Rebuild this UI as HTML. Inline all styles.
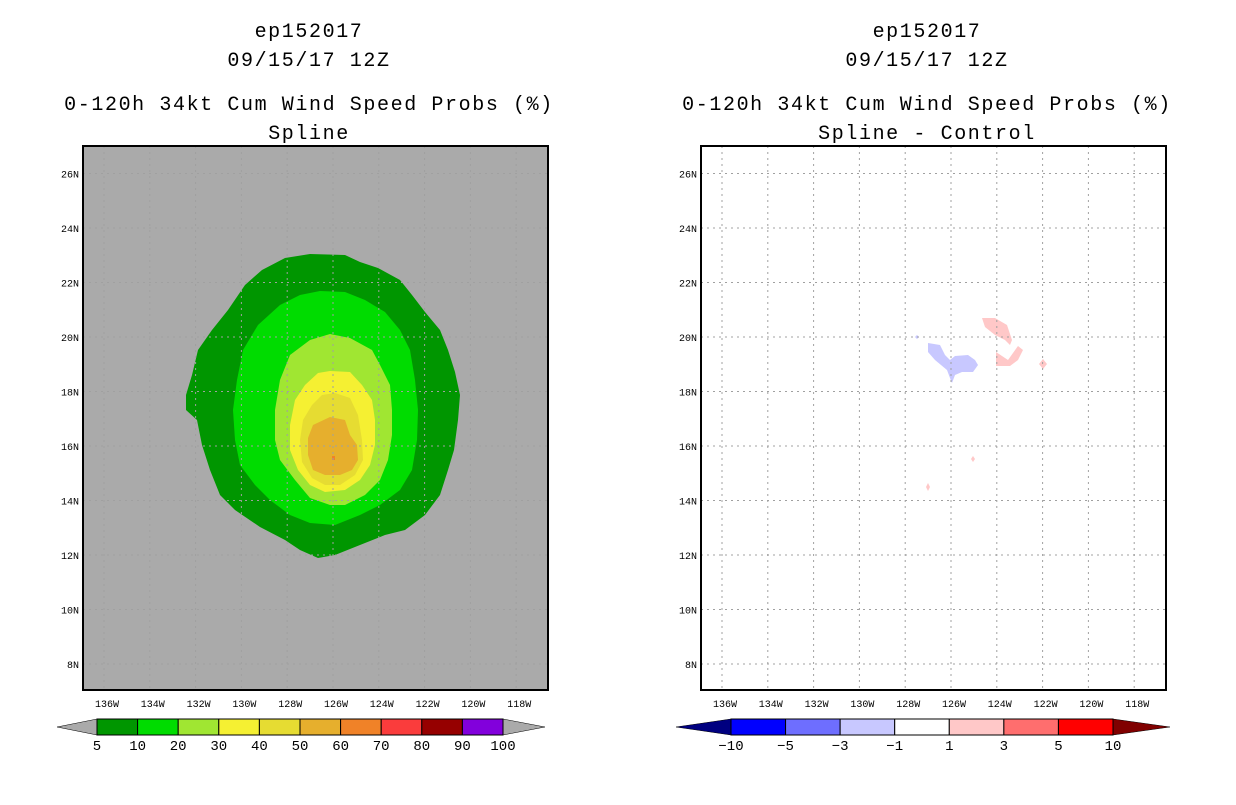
<!DOCTYPE html>
<html><head><meta charset="utf-8"><style>
body{margin:0;background:#fff;}
svg text{font-family:"Liberation Mono","DejaVu Sans Mono",monospace;}
</style></head><body>
<svg id="s" width="1236" height="800" xmlns="http://www.w3.org/2000/svg"></svg>
<script>
const lats=[8,10,12,14,16,18,20,22,24,26];
const lons=[136,134,132,130,128,126,124,122,120,118];
const probLevels=[5,10,20,30,40,50,60,70,80,90,100];
const probColors=["#009600","#00dc00","#a0e632","#f5f032","#e6dc32","#e6af2d","#f08228","#fa3c3c","#960000","#8200dc"];
const diffLevels=[-10,-5,-3,-1,1,3,5,10];
const diffColors=["#0000ff","#6e6eff","#c8c8ff","#ffffff","#ffc8c8","#ff6e6e","#ff0000"];
function P(a){const r=[];for(let i=0;i<a.length;i+=2)r.push([126-(a[i]-333)/22.9,16+(446-a[i+1])/27.25]);return r;}
const ring5=P([310,254,345,255,360,262,378,268,400,280,412,295,425,312,440,330,448,350,455,372,460,395,458,420,454,450,448,470,440,495,425,515,405,530,385,535,360,545,335,555,318,558,300,550,285,540,260,527,235,510,220,495,210,470,202,445,197,420,186,410,186,395,192,375,198,350,212,330,228,310,245,285,262,270,285,258]);
const ring10=P([320,291,345,292,365,300,385,312,400,330,410,350,415,380,418,410,417,440,412,470,400,490,380,505,360,515,335,525,310,523,290,515,270,500,255,485,240,465,235,440,233,410,237,380,243,350,258,325,280,305,300,295]);
const ring20=P([330,334,350,338,372,350,380,365,390,385,392,410,392,435,388,460,380,480,365,495,345,505,330,505,310,498,295,480,280,460,275,440,275,410,280,380,290,355,310,340]);
const ring30=P([330,371,350,372,362,385,372,400,375,420,375,445,370,465,360,480,345,490,325,492,310,485,298,470,290,450,290,425,295,400,305,385,318,373]);
const ring40=P([335,393,350,398,358,415,362,440,363,460,355,475,340,485,325,485,312,478,302,462,300,440,303,420,312,405,322,395]);
const ring50=P([330,417,345,420,350,435,357,445,358,460,352,470,340,475,325,475,313,470,308,455,308,438,313,425]);
const ring60=P([332,456,335,456,335,460,332,460]);
const probRings=[ring5,ring10,ring20,ring30,ring40,ring50,ring60];
function Q(a){const r=[];for(let i=0;i<a.length;i+=2)r.push([126-(a[i]-951)/22.9,16+(446-a[i+1])/27.25]);return r;}
const diffBlobs=[
 {c:2,pts:Q([928,343,940,345,945,355,950,360,955,356,968,355,975,360,978,365,973,372,962,372,955,375,952,383,950,378,947,370,935,360,928,352])},
 {c:2,pts:Q([917,335,919,337,917,339,915,337])},
 {c:4,pts:Q([982,318,995,318,1007,325,1012,340,1010,345,1005,340,995,335,985,327])},
 {c:4,pts:Q([996,352,1008,360,1018,346,1023,350,1018,360,1010,366,996,366])},
 {c:4,pts:Q([1043,359,1047,364,1043,369,1039,364])},
 {c:4,pts:Q([973,456,975,459,973,462,971,459])},
 {c:4,pts:Q([928,483,930,487,928,491,926,487])}
];
const S=document.getElementById('s');const NS="http://www.w3.org/2000/svg";
function el(t,a,p){const e=document.createElementNS(NS,t);for(const k in a)e.setAttribute(k,a[k]);(p||S).appendChild(e);return e;}
function txt(x,y,s,size,anchor,name,ls){const t=el('text',{x:x,y:y,'font-size':size,'text-anchor':anchor||'middle',fill:'#000'});
 if(ls)t.setAttribute('letter-spacing',ls);
 t.textContent=s;
 
 return t;}
function panel(x0,bg,titleB,fn){
 const W=465,H=544,y0=146;
 const xs=lon=>x0+250-(lon-126)*22.9;
 const ys=lat=>y0+300-(lat-16)*27.25;
 const cx=x0+226;
 txt(cx,37,'ep152017',20,'middle','storm-id-title',1.6);
 txt(cx,66,'09/15/17 12Z',20,'middle','date-title',1.6);
 txt(cx,110,'0-120h 34kt Cum Wind Speed Probs (%)',20,'middle','main-title',1.6);
 txt(cx,139,titleB,20,'middle','subtitle',1.6);
 const g=el('g',{});
 
 
 el('rect',{x:x0,y:y0,width:W,height:H,fill:bg},g);
 fn(g,xs,ys);
 lons.forEach(l=>{const x=xs(l);const ln=el('line',{x1:x,x2:x,y1:y0,y2:y0+H,stroke:'#a0a0a0','stroke-dasharray':'2,4'},g);
  
  txt(x+3,y0+H+17,l+'W',10,'middle','lon-tick-label');});
 lats.forEach(l=>{const y=ys(l);const ln=el('line',{x1:x0,x2:x0+W,y1:y,y2:y,stroke:'#a0a0a0','stroke-dasharray':'2,4'},g);
  
  txt(x0-4,y+4,l+'N',10,'end','lat-tick-label');});
 const b=el('rect',{x:x0,y:y0,width:W,height:H,fill:'none',stroke:'#000','stroke-width':2});
 
}
function poly(g,pts,xs,ys,fill,name){const p=el('polygon',{points:pts.map(q=>xs(q[0])+','+ys(q[1])).join(' '),fill:fill},g);
 }
panel(83,'#aaaaaa','Spline',(g,xs,ys)=>{probRings.forEach((r,i)=>poly(g,r,xs,ys,probColors[i],'prob-contour-'+probLevels[i]));});
panel(701,'#ffffff','Spline - Control',(g,xs,ys)=>{diffBlobs.forEach(b=>poly(g,b.pts,xs,ys,diffColors[b.c],'diff-region'));});
function cbar(x0,x1,tipL,tipR,cols,levels,lc,rc,name){
 const g=el('g',{});
 const y0=719,y1=735,ym=727,w=(x1-x0)/cols.length;
 const a=el('polygon',{points:`${tipL},${ym} ${x0},${y0} ${x0},${y1}`,fill:lc,stroke:'#000','stroke-width':0.5},g);
 
 const c=el('polygon',{points:`${tipR},${ym} ${x1},${y0} ${x1},${y1}`,fill:rc,stroke:'#000','stroke-width':0.5},g);
 
 cols.forEach((col,i)=>{const r=el('rect',{x:x0+i*w,y:y0,width:w,height:y1-y0,fill:col,stroke:'#000','stroke-width':1},g);
  });
 levels.forEach((v,i)=>{const t=txt(x0+i*w,750,String(v).replace('-','−'),14,'middle','colorbar-label');g.appendChild(t);});
}
cbar(97,503,57,545,probColors,probLevels,'#aaaaaa','#aaaaaa','prob-colorbar');
cbar(731,1113,676,1170,diffColors,diffLevels,'#000080','#800000','diff-colorbar');
</script>
</body></html>
